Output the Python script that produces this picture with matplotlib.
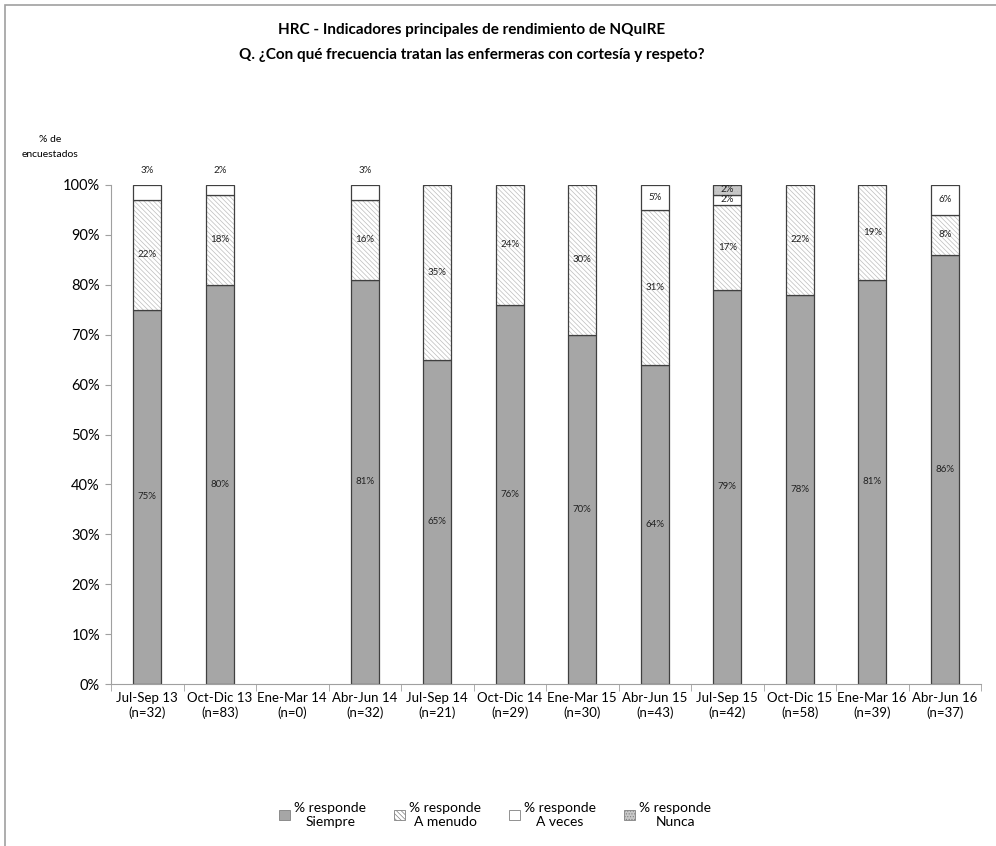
import matplotlib.pyplot as plt
import numpy as np
from matplotlib.patches import Rectangle, Patch

plt.rcParams["font.family"] = ["Lato", "DejaVu Sans"]
plt.rcParams["hatch.linewidth"] = 0.5

periods = ["Jul-Sep 13", "Oct-Dic 13", "Ene-Mar 14", "Abr-Jun 14", "Jul-Sep 14", "Oct-Dic 14",
           "Ene-Mar 15", "Abr-Jun 15", "Jul-Sep 15", "Oct-Dic 15", "Ene-Mar 16", "Abr-Jun 16"]
n_counts = [32, 83, 0, 32, 21, 29, 30, 43, 42, 58, 39, 37]
siempre = [75, 80, 0, 81, 65, 76, 70, 64, 79, 78, 81, 86]
a_menudo = [22, 18, 0, 16, 35, 24, 30, 31, 17, 22, 19, 8]
a_veces = [3, 2, 0, 3, 0, 0, 0, 5, 2, 0, 0, 6]
nunca = [0, 0, 0, 0, 0, 0, 0, 0, 2, 0, 0, 0]

series = [
    ("% responde\nSiempre", siempre, "#a6a6a6", None),
    ("% responde\nA menudo", a_menudo, "white", "\\\\\\\\\\\\\\"),
    ("% responde\nA veces", a_veces, "white", None),
    ("% responde\nNunca", nunca, "#c8c8c8", "......"),
]

fig = plt.figure(figsize=(9.96, 8.46), dpi=100)
fig.patches.append(Rectangle((5 / 996, -0.1), 1.2, 1.1 - 5 / 846, transform=fig.transFigure,
                             fill=False, edgecolor="#a0a0a0", linewidth=1.2))
ax = fig.add_axes([111 / 996, 1 - 684 / 846, 870 / 996, 499 / 846])

x = np.arange(len(periods))
width = 0.39
bottom = np.zeros(len(periods))
for name, vals, color, hatch in series:
    vals = np.array(vals, dtype=float)
    mask = vals > 0
    # fill + hatch first, outline on top
    ax.bar(x[mask], vals[mask] / 100, width, bottom=bottom[mask] / 100, color=color,
           edgecolor="#bdbdbd" if hatch else color, hatch=hatch, linewidth=0)
    ax.bar(x[mask], vals[mask] / 100, width, bottom=bottom[mask] / 100, fill=False,
           edgecolor="#404040", linewidth=0.9)
    for i in np.where(mask)[0]:
        v = vals[i]
        y = (bottom[i] + v / 2) / 100
        if name.endswith("A veces") and v <= 3 and nunca[i] == 0:
            y = 1.03
        ax.text(x[i], y, f"{int(v)}%", ha="center", va="center", fontsize=7, color="#222222")
    bottom += vals

ax.set_xlim(-0.5, len(periods) - 0.5)
ax.set_ylim(0, 1)
ax.set_yticks(np.arange(0, 1.01, 0.1))
ax.set_yticklabels([f"{int(round(t * 100))}%" for t in np.arange(0, 1.01, 0.1)], fontsize=10.5)
ax.set_xticks(x)
ax.set_xticklabels([f"{p}\n(n={n})" for p, n in zip(periods, n_counts)], fontsize=9.5)
ax.set_xticks(np.arange(-0.5, len(periods), 1), minor=True)
ax.tick_params(axis="x", which="major", length=0, pad=6)
ax.tick_params(axis="x", which="minor", length=5, color="#a0a0a0")
ax.tick_params(axis="y", length=4, color="#a0a0a0", pad=4)
for side in ["top", "right"]:
    ax.spines[side].set_visible(False)
for side in ["left", "bottom"]:
    ax.spines[side].set_color("#a0a0a0")

fig.text(472 / 996, 1 - 30 / 846, "HRC - Indicadores principales de rendimiento de NQuIRE",
         ha="center", va="center", fontsize=11, fontweight="bold")
fig.text(472 / 996, 1 - 55 / 846, "Q. ¿Con qué frecuencia tratan las enfermeras con cortesía y respeto?",
         ha="center", va="center", fontsize=11, fontweight="bold")
fig.text(50 / 996, 1 - 147 / 846, "% de\nencuestados", ha="center", va="center", fontsize=7.5,
         linespacing=1.8)

handles = [Patch(facecolor=c, edgecolor="#808080", hatch=h, linewidth=0.6) for _, _, c, h in series]
leg = fig.legend(handles, [s[0] for s in series], loc="center", bbox_to_anchor=(495 / 996, 1 - 815 / 846),
                 ncol=4, frameon=False, fontsize=10, handlelength=0.8, handleheight=0.8,
                 handletextpad=0.3, columnspacing=2.0)
for t in leg.get_texts():
    t.set_multialignment("center")

fig.savefig("out.png", dpi=100)
